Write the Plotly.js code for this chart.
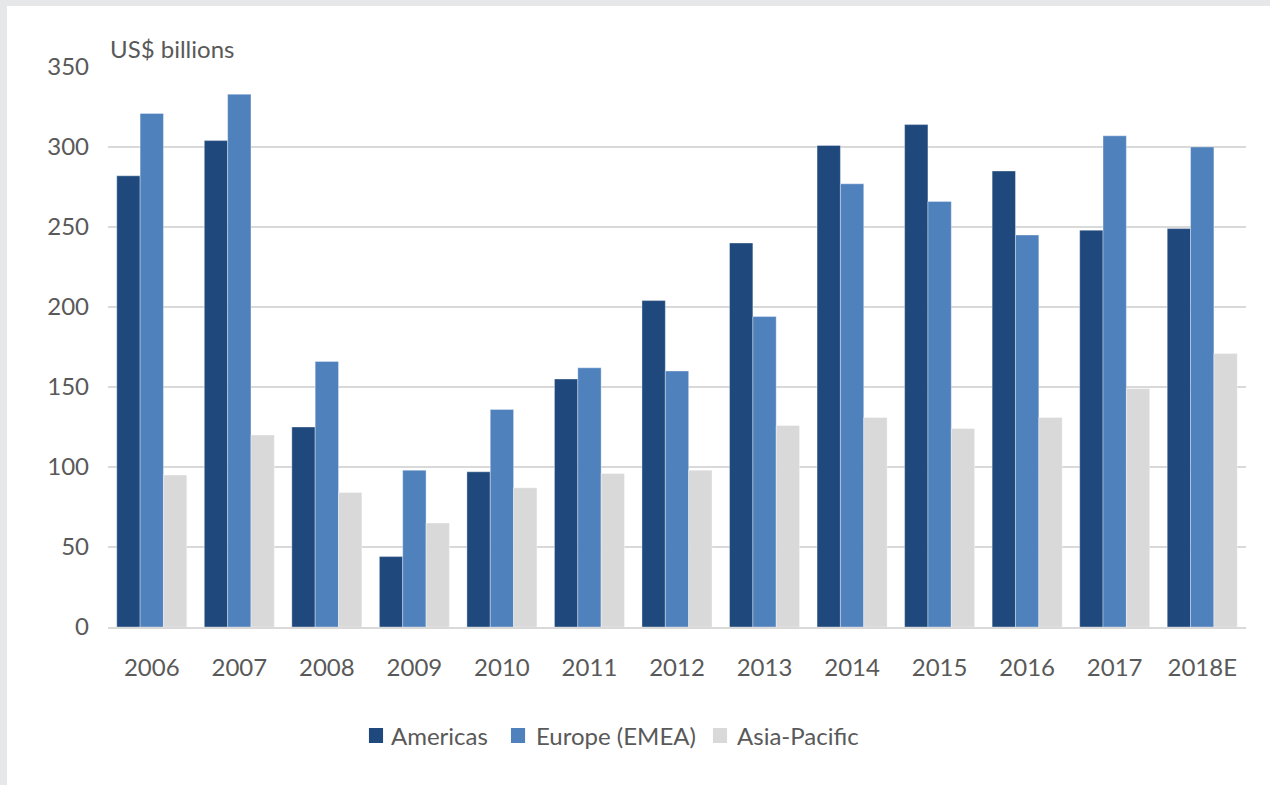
<!DOCTYPE html>
<html>
<head>
<meta charset="utf-8">
<script src="https://cdn.plot.ly/plotly-3.0.1.min.js"></script>
<style>
html,body{margin:0;padding:0;background:#e6e7e9;width:1270px;height:785px;overflow:hidden;}
#chart{position:absolute;left:7px;top:6px;width:1263px;height:779px;background:#fff;}
</style>
</head>
<body>
<div id="chart"></div>
<script>
var years = ["2006","2007","2008","2009","2010","2011","2012","2013","2014","2015","2016","2017","2018E"];
var americas = [282, 304, 125, 44, 97, 155, 204, 240, 301, 314, 285, 248, 249];
var europe = [321, 333, 166, 98, 136, 162, 160, 194, 277, 266, 245, 307, 300];
var asiaPacific = [95, 120, 84, 65, 87, 96, 98, 126, 131, 124, 131, 149, 171];
var seriesNames = ["Americas", "Europe (EMEA)", "Asia-Pacific"];
var colors = ["#1f497d", "#4f81bd", "#d9d9d9"];
var yTicks = [0, 50, 100, 150, 200, 250, 300, 350];

// legend placement (paper coordinates)
var legendSquareX = [0.2293, 0.3541, 0.5316];
var legendTextX = [0.2469, 0.3743, 0.5510];

var font = "Lato, 'Open Sans', sans-serif";
var data = [americas, europe, asiaPacific].map(function(v, i){
  return {
    type: "bar",
    name: seriesNames[i],
    x: years,
    y: v,
    marker: {color: colors[i], line: {width: 0.6, color: "rgba(255,255,255,0.6)"}},
    hoverinfo: "x+y+name"
  };
});

var shapes = [];
var annotations = [{
  xref: "paper", yref: "paper", x: 0, y: 1, xanchor: "left", yanchor: "bottom",
  yshift: 2, showarrow: false, align: "left",
  text: "US$ billions",
  font: {family: font, size: 24, color: "#595959"}
}];
seriesNames.forEach(function(n, i){
  shapes.push({
    type: "rect", xref: "paper", yref: "paper",
    x0: legendSquareX[i], x1: legendSquareX[i] + 0.0124,
    y0: -0.2071, y1: -0.1804,
    fillcolor: colors[i], line: {width: 0}
  });
  annotations.push({
    xref: "paper", yref: "paper", x: legendTextX[i], y: -0.1946,
    xanchor: "left", yanchor: "middle", showarrow: false,
    text: n, font: {family: font, size: 24, color: "#595959"}
  });
});

var layout = {
  width: 1263, height: 779,
  margin: {l: 101, r: 24, t: 61, b: 158},
  paper_bgcolor: "#fff", plot_bgcolor: "#fff",
  barmode: "group",
  bargap: 0.2, bargroupgap: 0,
  font: {family: font, color: "#595959", size: 24},
  showlegend: false,
  xaxis: {
    type: "category",
    showgrid: false, zeroline: false,
    showline: true, linecolor: "#d9d9d9", linewidth: 2,
    ticks: "", ticklabelstandoff: 18,
    tickfont: {family: font, size: 24, color: "#595959"}
  },
  yaxis: {
    range: [0, 350],
    tickvals: yTicks,
    ticktext: yTicks.map(String),
    showgrid: true, gridcolor: "#d9d9d9", gridwidth: 1.5,
    zeroline: false, showline: false,
    ticks: "", ticklabelstandoff: 18,
    tickfont: {family: font, size: 24, color: "#595959"}
  },
  shapes: shapes,
  annotations: annotations
};

Plotly.newPlot("chart", data, layout, {displayModeBar: false, staticPlot: true});
</script>
</body>
</html>
